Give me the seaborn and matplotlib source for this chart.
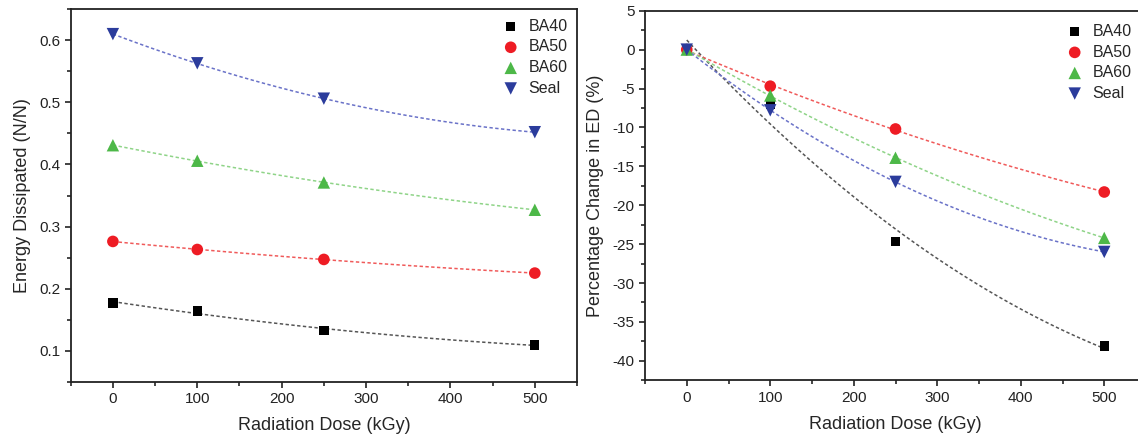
import numpy as np
import pandas as pd
import matplotlib
matplotlib.use("Agg")
import matplotlib.pyplot as plt
import seaborn as sns
from matplotlib.ticker import MultipleLocator

dose = [0, 100, 250, 500]
series = ["BA40", "BA50", "BA60", "Seal"]

ed_ba40 = [0.177, 0.164, 0.133, 0.109]
ed_ba50 = [0.276, 0.263, 0.247, 0.225]
ed_ba60 = [0.431, 0.406, 0.371, 0.327]
ed_seal = [0.610, 0.563, 0.506, 0.452]

pc_ba40 = [0.0, -7.0, -24.7, -38.1]
pc_ba50 = [0.0, -4.7, -10.2, -18.3]
pc_ba60 = [0.0, -5.9, -13.9, -24.2]
pc_seal = [0.0, -7.8, -17.0, -26.0]

colors = {"BA40": "#000000", "BA50": "#ee1c24", "BA60": "#4db848", "Seal": "#2b3c9c"}
line_colors = {"BA40": "#555555", "BA50": "#f05a5a", "BA60": "#8fd488", "Seal": "#6a72c8"}
markers = {"BA40": "s", "BA50": "o", "BA60": "^", "Seal": "v"}
sizes = {"BA40": 45, "BA50": 70, "BA60": 80, "Seal": 80}

def long_df(vals):
    rows = []
    for name, v in zip(series, vals):
        for d, y in zip(dose, v):
            rows.append({"dose": d, "value": y, "series": name})
    return pd.DataFrame(rows)

df_ed = long_df([ed_ba40, ed_ba50, ed_ba60, ed_seal])
df_pc = long_df([pc_ba40, pc_ba50, pc_ba60, pc_seal])

sns.set_style("ticks")
plt.rcParams["font.family"] = ["Liberation Sans", "DejaVu Sans"]
plt.rcParams["axes.unicode_minus"] = False

fig = plt.figure(figsize=(11.38, 4.45), dpi=100)
W, H = 1138, 445
ax1 = fig.add_axes([70.7 / W, 1 - 381.7 / H, (577 - 70.7) / W, (381.7 - 9.3) / H])
ax2 = fig.add_axes([645 / W, 1 - 380.3 / H, (1146 - 645) / W, (380.3 - 10.7) / H])

def draw(ax, df, ylim, major, minor, ylabel, legend_anchor):
    for name in series:
        sub = df[df["series"] == name]
        sns.regplot(data=sub, x="dose", y="value", order=2, ci=None, scatter=False,
                    truncate=True, ax=ax,
                    line_kws=dict(color=line_colors[name], linestyle=(0, (2.2, 1.6)), linewidth=1.1))
    for name in series:
        sub = df[df["series"] == name]
        sns.scatterplot(data=sub, x="dose", y="value", marker=markers[name], color=colors[name],
                        s=sizes[name], edgecolor="none", ax=ax, label=name, zorder=3)
    ax.set_xlim(-50, 550)
    ax.set_ylim(*ylim)
    ax.xaxis.set_major_locator(MultipleLocator(100))
    ax.xaxis.set_minor_locator(MultipleLocator(50))
    ax.yaxis.set_major_locator(MultipleLocator(major))
    ax.yaxis.set_minor_locator(MultipleLocator(minor))
    ax.tick_params(which="major", direction="out", length=4, width=1.2, labelsize=11, colors="#222222")
    ax.tick_params(which="minor", direction="out", length=3, width=1.2)
    for sp in ax.spines.values():
        sp.set_visible(True)
        sp.set_linewidth(1.3)
        sp.set_color("#222222")
    ax.set_xlabel("Radiation Dose (kGy)", fontsize=13, labelpad=8)
    ax.set_ylabel(ylabel, fontsize=13, labelpad=6)
    h, l = ax.get_legend_handles_labels()
    ax.legend(h, l, frameon=False, loc="upper right", bbox_to_anchor=legend_anchor,
              fontsize=11.5, handletextpad=0.6, labelspacing=0.35, borderaxespad=0.2,
              handlelength=1.0)

draw(ax1, df_ed, (0.05, 0.65), 0.1, 0.05, "Energy Dissipated (N/N)", (1.0, 1.0))
ax1.yaxis.set_major_formatter(matplotlib.ticker.FormatStrFormatter("%g"))
draw(ax2, df_pc, (-42.5, 5), 5, 2.5, "Percentage Change in ED (%)", (0.99, 0.99))

fig.savefig("out.png", dpi=100)
